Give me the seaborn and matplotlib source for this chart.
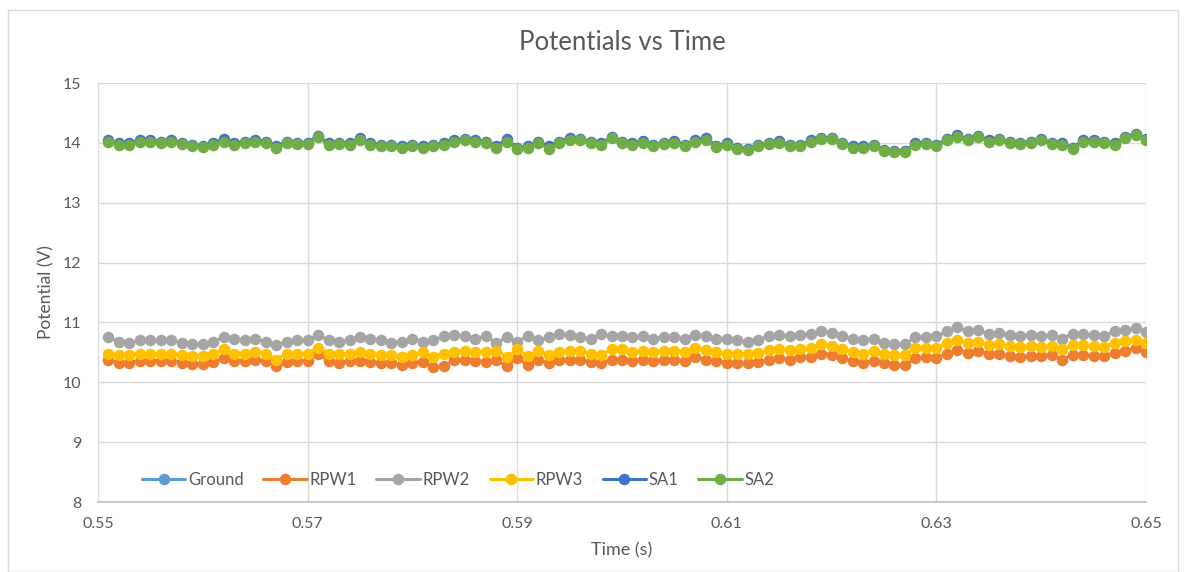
import numpy as np
import pandas as pd
import matplotlib
matplotlib.use("Agg")
import matplotlib.pyplot as plt
from matplotlib.lines import Line2D
from matplotlib.patches import Rectangle
import seaborn as sns

# ---- data -----------------------------------------------------------------
time_s = [round(0.551 + 0.001 * i, 3) for i in range(100)]

ground = [0.0] * 100

rpw1 = [10.38, 10.33, 10.33, 10.36, 10.36, 10.36, 10.36, 10.33, 10.31, 10.31,
        10.34, 10.40, 10.36, 10.36, 10.38, 10.36, 10.27, 10.34, 10.36, 10.36,
        10.48, 10.36, 10.33, 10.36, 10.36, 10.34, 10.33, 10.32, 10.29, 10.32,
        10.34, 10.26, 10.27, 10.37, 10.38, 10.36, 10.34, 10.37, 10.27, 10.40,
        10.29, 10.38, 10.32, 10.37, 10.38, 10.37, 10.34, 10.32, 10.38, 10.37,
        10.36, 10.38, 10.36, 10.37, 10.37, 10.36, 10.42, 10.38, 10.36, 10.33,
        10.33, 10.32, 10.34, 10.38, 10.40, 10.38, 10.42, 10.43, 10.48, 10.46,
        10.40, 10.36, 10.33, 10.36, 10.32, 10.29, 10.29, 10.40, 10.42, 10.40,
        10.48, 10.54, 10.49, 10.53, 10.47, 10.48, 10.44, 10.43, 10.44, 10.44,
        10.46, 10.38, 10.46, 10.46, 10.44, 10.44, 10.49, 10.53, 10.57, 10.50]

rpw2 = [10.75, 10.68, 10.66, 10.70, 10.70, 10.70, 10.70, 10.66, 10.64, 10.64,
        10.68, 10.75, 10.72, 10.70, 10.72, 10.68, 10.62, 10.68, 10.70, 10.70,
        10.79, 10.70, 10.68, 10.70, 10.76, 10.72, 10.70, 10.65, 10.68, 10.73,
        10.68, 10.70, 10.77, 10.79, 10.77, 10.73, 10.77, 10.66, 10.75, 10.68,
        10.77, 10.70, 10.75, 10.81, 10.79, 10.75, 10.72, 10.81, 10.77, 10.77,
        10.75, 10.77, 10.73, 10.75, 10.76, 10.72, 10.79, 10.77, 10.73, 10.72,
        10.70, 10.68, 10.71, 10.77, 10.79, 10.77, 10.79, 10.81, 10.85, 10.83,
        10.77, 10.72, 10.70, 10.73, 10.66, 10.64, 10.64, 10.76, 10.76, 10.77,
        10.85, 10.92, 10.85, 10.87, 10.81, 10.83, 10.79, 10.77, 10.79, 10.77,
        10.79, 10.73, 10.81, 10.81, 10.79, 10.77, 10.85, 10.87, 10.90, 10.84]

rpw3 = [10.48, 10.46, 10.46, 10.48, 10.48, 10.48, 10.48, 10.46, 10.44, 10.44,
        10.48, 10.55, 10.48, 10.48, 10.51, 10.48, 10.38, 10.48, 10.48, 10.48,
        10.58, 10.48, 10.47, 10.48, 10.51, 10.48, 10.46, 10.46, 10.43, 10.46,
        10.51, 10.43, 10.48, 10.51, 10.53, 10.51, 10.51, 10.53, 10.43, 10.55,
        10.44, 10.53, 10.46, 10.51, 10.53, 10.53, 10.48, 10.46, 10.55, 10.55,
        10.51, 10.53, 10.51, 10.53, 10.53, 10.51, 10.57, 10.54, 10.51, 10.48,
        10.48, 10.47, 10.49, 10.54, 10.55, 10.54, 10.55, 10.57, 10.64, 10.61,
        10.55, 10.51, 10.48, 10.53, 10.48, 10.46, 10.46, 10.57, 10.58, 10.57,
        10.65, 10.71, 10.65, 10.68, 10.62, 10.64, 10.61, 10.59, 10.61, 10.59,
        10.61, 10.55, 10.62, 10.62, 10.61, 10.59, 10.66, 10.69, 10.71, 10.65]

sa1 = [14.04, 13.99, 13.99, 14.04, 14.04, 14.02, 14.04, 14.00, 13.96, 13.95,
       13.99, 14.07, 13.99, 14.02, 14.05, 14.02, 13.94, 14.02, 14.00, 14.00,
       14.12, 13.99, 14.00, 13.99, 14.08, 13.99, 13.97, 13.96, 13.94, 13.97,
       13.94, 13.97, 13.99, 14.04, 14.06, 14.04, 14.02, 13.94, 14.07, 13.92,
       13.94, 14.02, 13.94, 14.02, 14.08, 14.06, 14.02, 13.99, 14.10, 14.02,
       13.99, 14.03, 13.97, 14.00, 14.03, 13.97, 14.05, 14.08, 13.95, 13.99,
       13.92, 13.90, 13.96, 14.00, 14.03, 13.97, 13.96, 14.04, 14.08, 14.08,
       14.00, 13.94, 13.94, 13.97, 13.88, 13.87, 13.87, 13.99, 14.00, 13.96,
       14.07, 14.13, 14.06, 14.12, 14.04, 14.06, 14.02, 14.00, 14.02, 14.06,
       14.00, 13.99, 13.92, 14.04, 14.04, 14.02, 13.99, 14.10, 14.15, 14.07]

sa2 = [14.02, 13.97, 13.97, 14.02, 14.02, 14.00, 14.02, 13.98, 13.94, 13.93,
       13.97, 14.02, 13.97, 14.00, 14.02, 14.00, 13.92, 14.00, 13.98, 13.98,
       14.09, 13.97, 13.98, 13.97, 14.05, 13.97, 13.95, 13.94, 13.92, 13.95,
       13.92, 13.95, 13.97, 14.02, 14.04, 14.02, 14.00, 13.92, 14.02, 13.90,
       13.92, 14.00, 13.90, 14.00, 14.05, 14.04, 14.00, 13.97, 14.08, 14.00,
       13.97, 14.00, 13.95, 13.98, 14.00, 13.95, 14.02, 14.04, 13.93, 13.97,
       13.90, 13.88, 13.94, 13.98, 14.00, 13.95, 13.94, 14.02, 14.06, 14.06,
       13.98, 13.92, 13.92, 13.95, 13.86, 13.85, 13.85, 13.97, 13.98, 13.94,
       14.04, 14.10, 14.04, 14.10, 14.02, 14.04, 14.00, 13.98, 14.00, 14.04,
       13.98, 13.97, 13.90, 14.02, 14.02, 14.00, 13.97, 14.08, 14.13, 14.04]

series_names = ["Ground", "RPW1", "RPW2", "RPW3", "SA1", "SA2"]
series_values = [ground, rpw1, rpw2, rpw3, sa1, sa2]
series_colors = ["#5B9BD5", "#ED7D31", "#A5A5A5", "#FFC000", "#4472C4", "#70AD47"]

x_ticks = [0.55, 0.57, 0.59, 0.61, 0.63, 0.65]
y_ticks = [8, 9, 10, 11, 12, 13, 14, 15]

# ---- long-form table ------------------------------------------------------
df = pd.concat(
    [pd.DataFrame({"Time (s)": time_s, "Potential (V)": vals, "Signal": name})
     for name, vals in zip(series_names, series_values)],
    ignore_index=True,
)

# ---- figure ---------------------------------------------------------------
sns.set_theme(style="white")
plt.rcParams["font.family"] = ["Lato", "DejaVu Sans"]

fig = plt.figure(figsize=(11.84, 5.72), dpi=100)
ax = fig.add_axes([98 / 1184, 1 - 502 / 572, (1146 - 98) / 1184, (502 - 83) / 572])

# outer chart frame
fig.patches.append(Rectangle((8 / 1184, 0), 1170 / 1184, 562 / 572,
                             transform=fig.transFigure, fill=False,
                             edgecolor="#D9D9D9", linewidth=1.0))

MS = 8.3
LW = 2.2
palette = dict(zip(series_names, series_colors))
sns.lineplot(data=df, x="Time (s)", y="Potential (V)", hue="Signal",
             hue_order=series_names, palette=palette, sort=False,
             estimator=None, marker="o", markersize=MS, markeredgewidth=0,
             linewidth=LW, legend=False, ax=ax, clip_on=True)

ax.set_xlim(0.55, 0.65)
ax.set_ylim(8, 15)
ax.set_xticks(x_ticks)
ax.set_xticklabels([f"{t:.2f}" for t in x_ticks])
ax.set_yticks(y_ticks)
ax.grid(True, color="#D9D9D9", linewidth=1.0)
ax.set_axisbelow(True)
for side in ["top", "right", "left"]:
    ax.spines[side].set_visible(False)
ax.spines["bottom"].set_color("#BFBFBF")
ax.spines["bottom"].set_linewidth(1.2)
ax.tick_params(axis="both", length=0, labelsize=11.5, colors="#595959")
ax.tick_params(axis="x", pad=11)
ax.tick_params(axis="y", pad=12)

ax.set_xlabel("Time (s)", fontsize=13, color="#595959", labelpad=8)
ax.set_ylabel("Potential (V)", fontsize=12.5, color="#595959", labelpad=6)
fig.text(622 / 1184, 1 - 43 / 572, "Potentials vs Time", ha="center",
         va="center", fontsize=18.5, color="#595959")

handles = [Line2D([0], [0], color=c, linewidth=LW, marker="o", markersize=MS,
                  markeredgewidth=0) for c in series_colors]
ax.legend(handles, series_names, ncol=6, frameon=False, loc="center",
          bbox_to_anchor=((458 - 98) / 1048, (502 - 480) / 419),
          fontsize=12, labelcolor="#595959", handlelength=2.6,
          handletextpad=0.15, columnspacing=1.2)

fig.savefig("out.png", dpi=100, facecolor="white")
